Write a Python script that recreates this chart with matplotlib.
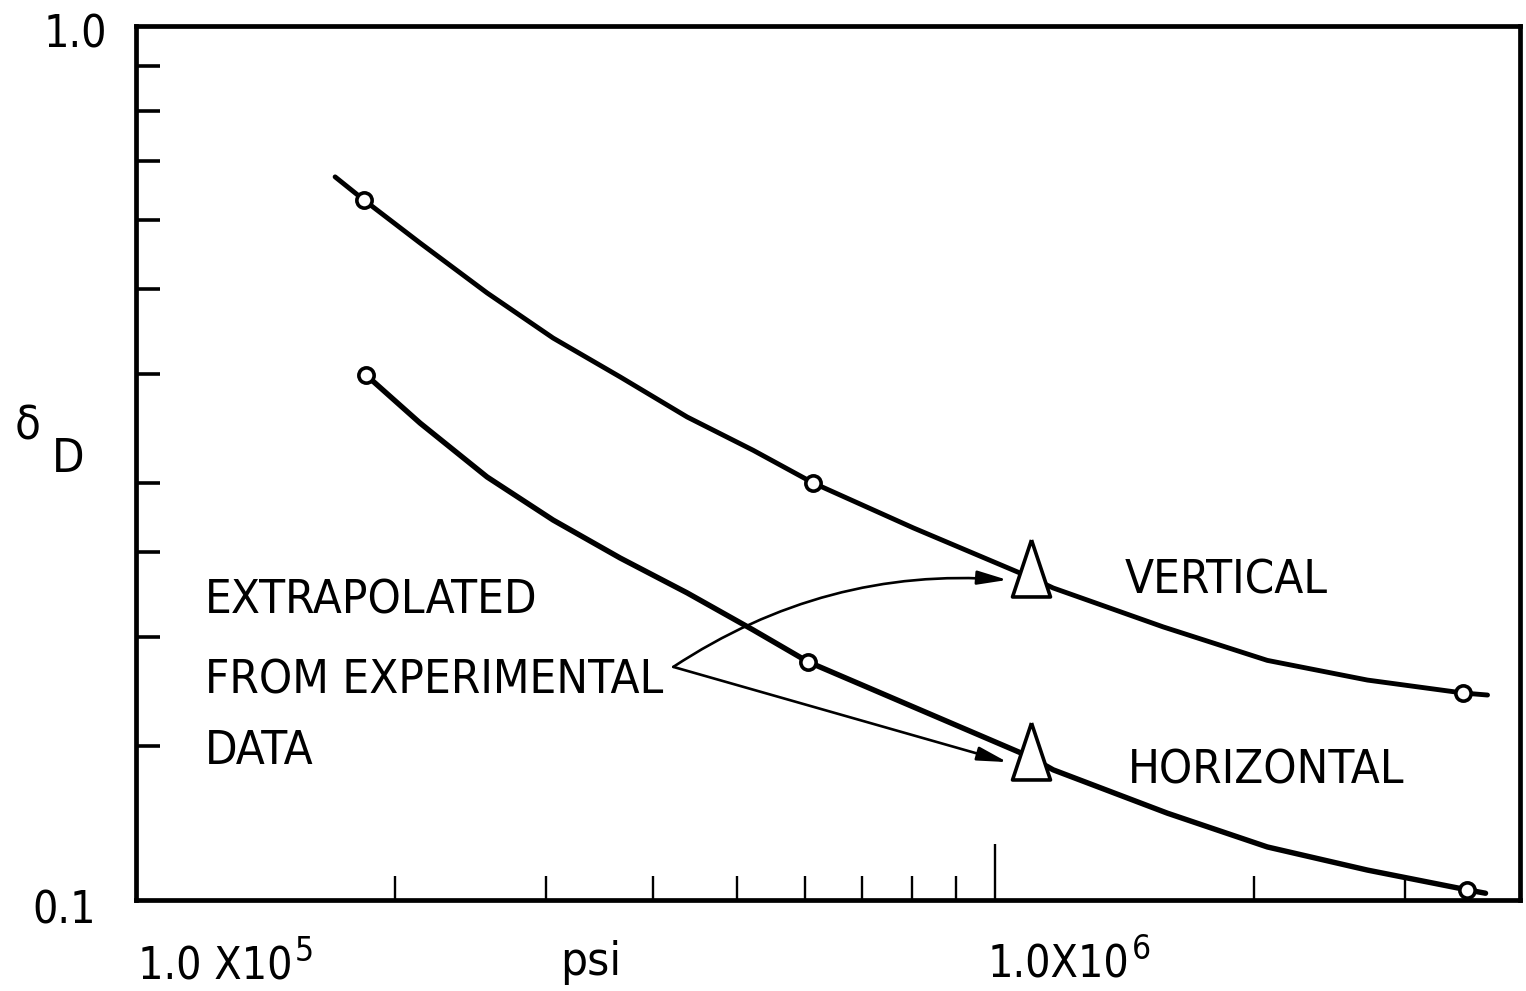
import numpy as np
import matplotlib
matplotlib.use("Agg")
import matplotlib.pyplot as plt
from matplotlib import font_manager
from matplotlib.ticker import FixedLocator, NullFormatter

# curves (psi, delta_D)
vert_x = [1.705e5, 1.843e5, 2.141e5, 2.562e5, 3.058e5, 3.660e5, 4.379e5, 5.227e5, 6.14e5,
          8.03e5, 1.098e6, 1.168e6, 1.569e6, 2.073e6, 2.711e6, 3.506e6, 3.74e6]
vert_y = [0.672, 0.632, 0.5646, 0.495, 0.4395, 0.3967, 0.357, 0.327, 0.300,
          0.2665, 0.234, 0.2275, 0.2053, 0.188, 0.1785, 0.1725, 0.1716]
horiz_x = [1.852e5, 2.141e5, 2.562e5, 3.058e5, 3.660e5, 4.379e5, 5.227e5, 6.06e5,
           8.03e5, 1.098e6, 1.168e6, 1.586e6, 2.073e6, 2.711e6, 3.544e6, 3.72e6]
horiz_y = [0.3988, 0.3513, 0.3048, 0.2721, 0.2462, 0.2246, 0.2037, 0.1872,
           0.1663, 0.1458, 0.1409, 0.1257, 0.115, 0.1082, 0.1027, 0.1018]

# circles = measured, triangles = extrapolated
vert_meas_x = [1.843e5, 6.14e5, 3.506e6]
vert_meas_y = [0.632, 0.300, 0.1725]
horiz_meas_x = [1.852e5, 6.06e5, 3.544e6]
horiz_meas_y = [0.3988, 0.1872, 0.1027]
extrap_x = [1.10e6, 1.10e6]
extrap_y = [0.240, 0.148]

x_minor = [2e5, 3e5, 4e5, 5e5, 6e5, 7e5, 8e5, 9e5, 2e6, 3e6]
y_ticks = [0.15, 0.2, 0.25, 0.3, 0.4, 0.5, 0.6, 0.7, 0.8, 0.9]

W, H = 1526, 991

# look for a narrow face, the lettering on the original is condensed
narrow = None
for f in font_manager.fontManager.ttflist:
    nm = (f.name + ' ' + f.fname).lower()
    if ('narrow' in nm or 'condensed' in nm or f.stretch == 'condensed') \
            and f.style == 'normal' and f.weight in (400, 'normal', 'regular') \
            and 'mono' not in nm:
        narrow = f.fname
        break

if narrow:
    def fp(size):
        return font_manager.FontProperties(fname=narrow, size=size)
    fs = 34
else:
    plt.rcParams['font.family'] = ['Liberation Sans', 'DejaVu Sans']

    def fp(size):
        return font_manager.FontProperties(family=['Liberation Sans', 'DejaVu Sans'], size=size)
    fs = 30
fs_ax = fs - 2


def fx(px):
    return px / W


def fy(py):
    return 1 - py / H


fig = plt.figure(figsize=(W / 100, H / 100), dpi=100)
ax = fig.add_axes([fx(136), fy(900), (1520 - 136) / W, (900 - 26) / H])
ax.set_xscale('log')
ax.set_yscale('log')
ax.set_xlim(1e5, 4.08e6)
ax.set_ylim(0.1, 1.0)

for s in ax.spines.values():
    s.set_linewidth(3.4)

ax.xaxis.set_major_locator(FixedLocator([1e6]))
ax.xaxis.set_minor_locator(FixedLocator(x_minor))
ax.yaxis.set_major_locator(FixedLocator(y_ticks))
ax.yaxis.set_minor_locator(FixedLocator([]))
ax.xaxis.set_minor_formatter(NullFormatter())
ax.tick_params(which='both', direction='in', labelbottom=False, labelleft=False,
               top=False, right=False, color='black')
ax.tick_params(axis='x', which='major', length=40, width=1.7)
ax.tick_params(axis='x', which='minor', length=17, width=1.7)
ax.tick_params(axis='y', which='major', length=17, width=2.6)

ax.plot(vert_x, vert_y, color='black', lw=3.5, solid_capstyle='round',
        solid_joinstyle='round', zorder=2)
ax.plot(horiz_x, horiz_y, color='black', lw=3.9, solid_capstyle='round',
        solid_joinstyle='round', zorder=2)
ax.plot(vert_meas_x, vert_meas_y, 'o', ms=11, mfc='white', mec='black', mew=2.6, zorder=3)
ax.plot(horiz_meas_x, horiz_meas_y, 'o', ms=11, mfc='white', mec='black', mew=2.6, zorder=3)
tri = [(0, 1), (-0.667, -1), (0.667, -1), (0, 1)]
ax.plot(extrap_x, extrap_y, linestyle='none', marker=tri, ms=41, mfc='white',
        mec='black', mew=2.6, zorder=3)

# arrows from the note
arrow_kw = dict(arrowstyle='-|>,head_length=1.3,head_width=0.3', color='black',
                lw=1.9, shrinkA=0, shrinkB=0, mutation_scale=14)
ax.annotate('', xy=(1.033e6, 0.2324), xytext=(4.22e5, 0.1848),
            arrowprops=dict(connectionstyle='arc3,rad=-0.17', **arrow_kw))
ax.annotate('', xy=(1.033e6, 0.1438), xytext=(4.22e5, 0.1848),
            arrowprops=dict(connectionstyle='arc3,rad=0', **arrow_kw))

fig.text(fx(205), fy(613), 'EXTRAPOLATED', fontproperties=fp(fs), va='baseline')
fig.text(fx(205), fy(694), 'FROM EXPERIMENTAL', fontproperties=fp(fs), va='baseline')
fig.text(fx(205), fy(764), 'DATA', fontproperties=fp(fs), va='baseline')
fig.text(fx(1125), fy(594), 'VERTICAL', fontproperties=fp(fs), va='baseline')
fig.text(fx(1128), fy(784), 'HORIZONTAL', fontproperties=fp(fs), va='baseline')

# axis labels
fig.text(fx(107), fy(47), '1.0', fontproperties=fp(fs_ax), ha='right', va='baseline')
fig.text(fx(96), fy(924), '0.1', fontproperties=fp(fs_ax), ha='right', va='baseline')
t5 = fig.text(fx(138), fy(980), '1.0 X10', fontproperties=fp(fs_ax), va='baseline')
fig.text(fx(560), fy(975), 'psi', fontproperties=fp(fs), va='baseline')
t6 = fig.text(fx(988), fy(978), '1.0X10', fontproperties=fp(fs_ax), va='baseline')
fig.canvas.draw()
r = fig.canvas.get_renderer()
for t, e in ((t5, '5'), (t6, '6')):
    bb = t.get_window_extent(r)
    fig.text((bb.x1 + 2) / W, (bb.y0 + bb.height * 0.66) / H, e,
             fontproperties=fp(fs_ax * 0.75), va='baseline')
fig.text(fx(15), fy(440), 'δ', fontproperties=fp(fs), va='baseline')
fig.text(fx(52), fy(472), 'D', fontproperties=fp(fs), va='baseline')

fig.savefig('out.png', dpi=100)
